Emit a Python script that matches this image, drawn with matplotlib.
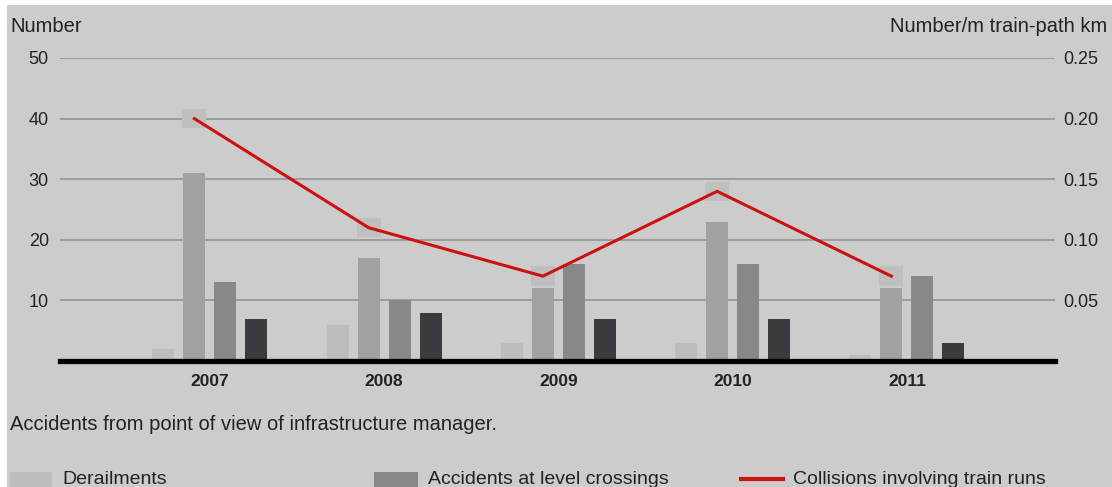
import numpy as np
import matplotlib.pyplot as plt
from matplotlib.patches import Rectangle
from matplotlib.lines import Line2D

plt.rcParams['font.family'] = ['Liberation Sans', 'DejaVu Sans']

years = ['2007', '2008', '2009', '2010', '2011']
derailments = [2, 6, 3, 3, 1]
bar2 = [31, 17, 12, 23, 12]
level_crossings = [13, 10, 16, 16, 14]
bar4 = [7, 8, 7, 7, 3]
collisions = [0.20, 0.11, 0.07, 0.14, 0.07]  # Number/m train-path km

bg = '#cccccc'
txt = '#222222'
colors = ['#bdbdbd', '#a1a1a1', '#888888', '#3b3b3f']
W, H = 1112, 487

fig = plt.figure(figsize=(W / 100, H / 100), dpi=100, facecolor='white')
fig.patches.append(Rectangle((7 / W, 0), 1, 482 / H, transform=fig.transFigure,
                             facecolor=bg, edgecolor='none', zorder=-10))
ax = fig.add_axes([60 / W, 1 - 361 / H, 995 / W, 303 / H])
ax.patch.set_alpha(0)

x = np.arange(len(years))
step = 0.178
w = 0.127
series = [derailments, bar2, level_crossings, bar4]
for i, s in enumerate(series):
    ax.bar(x + (i - 1.5) * step, s, width=w, color=colors[i], zorder=3)

ax.set_ylim(0, 50)
ax.set_xlim(-0.86, 4.85)
ax.set_yticks([10, 20, 30, 40, 50])
ax.yaxis.grid(True, color='#9c9c9c', linewidth=1.4, zorder=0)
ax.set_axisbelow(True)
for sp in ax.spines.values():
    sp.set_visible(False)
ax.axhline(0, color='black', linewidth=3.8, zorder=5, clip_on=False)
ax.tick_params(axis='y', length=0, pad=8, labelsize=13, colors=txt)
ax.set_xticks(x)
ax.set_xticklabels(years, fontweight='bold')
ax.tick_params(axis='x', length=0, pad=9, labelsize=12.5, colors=txt)

ax2 = ax.twinx()
ax2.set_ylim(0, 0.25)
ax2.set_yticks([0.05, 0.10, 0.15, 0.20, 0.25])
ax2.set_yticklabels(['0.05', '0.10', '0.15', '0.20', '0.25'])
ax2.tick_params(axis='y', length=0, pad=6, labelsize=13, colors=txt)
for sp in ax2.spines.values():
    sp.set_visible(False)
lx = x - 0.5 * step
ax2.bar(lx, 0.016, bottom=np.array(collisions) - 0.008, width=w + 0.01,
        color='#bfbfbf', zorder=2)
ax2.plot(lx, collisions, color='#cc1111', linewidth=2.2, zorder=4)

fs = 14.5
fig.text(10 / W, 1 - 27 / H, 'Number', fontsize=fs, color=txt, va='center')
fig.text(1107 / W, 1 - 27 / H, 'Number/m train-path km', fontsize=fs,
         color=txt, va='center', ha='right')
fig.text(10 / W, 1 - 424 / H, 'Accidents from point of view of infrastructure manager.',
         fontsize=fs, color=txt, va='center')

# legend row
lfs = 14
ly = 1 - 479 / H
fig.patches.append(Rectangle((10 / W, 0), 42 / W, 15 / H, transform=fig.transFigure,
                             facecolor=colors[0], edgecolor='none'))
fig.text(62 / W, ly, 'Derailments', fontsize=lfs, color=txt, va='center')
fig.patches.append(Rectangle((374 / W, 0), 44 / W, 15 / H, transform=fig.transFigure,
                             facecolor=colors[2], edgecolor='none'))
fig.text(428 / W, ly, 'Accidents at level crossings', fontsize=lfs, color=txt, va='center')
fig.lines.append(Line2D([741 / W, 783 / W], [ly, ly], transform=fig.transFigure,
                        color='#cc1111', linewidth=3))
fig.text(793 / W, ly, 'Collisions involving train runs', fontsize=lfs, color=txt, va='center')

fig.savefig('out.png', dpi=100, facecolor='white')
